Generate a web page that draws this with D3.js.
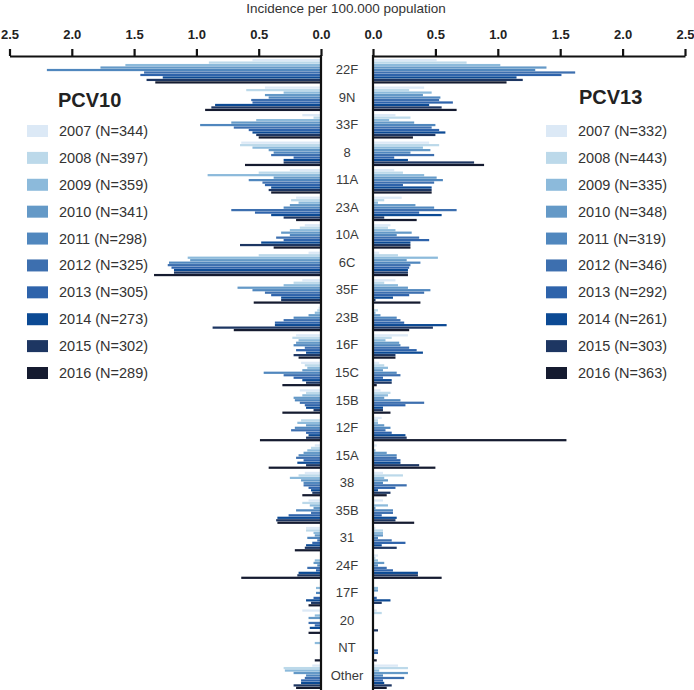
<!DOCTYPE html>
<html><head><meta charset="utf-8">
<script src="https://cdn.jsdelivr.net/npm/d3@7/dist/d3.min.js"></script>
<style>body{margin:0;background:#fff}svg{display:block}</style>
</head><body><svg id="c" width="694" height="690"></svg>
<script>
const categories = ["22F","9N","33F","8","11A","23A","10A","6C","35F","23B","16F","15C","15B","12F","15A","38","35B","31","24F","17F","20","NT","Other"];
const years = [2007,2008,2009,2010,2011,2012,2013,2014,2015,2016];
const nPCV10 = [344,397,359,341,298,325,305,273,302,289];
const nPCV13 = [332,443,335,348,319,346,292,261,303,363];
const yearColors = ["#dce9f6","#bcd9ea","#8cbadb","#6499c7","#5087be","#3d6faf","#2e63ab","#0c4a94","#1d3662","#151b30"];
const tickValues = [0,0.5,1,1.5,2,2.5];

// PCV10 countries: rows = categories, columns = 2007..2016
const pcv10 = [
  [0.55,0.90,1.57,1.77,2.20,1.42,1.45,1.27,1.40,1.33],
  [0.45,0.60,0.30,0.45,0.42,0.56,0.55,0.85,0.88,0.93],
  [0.15,0.06,0.52,0.72,0.97,0.70,0.58,0.55,0.52,0.50],
  [0.64,0.65,0.55,0.42,0.38,0.40,0.22,0.30,0.30,0.61],
  [0.25,0.50,0.91,0.38,0.58,0.47,0.45,0.40,0.42,0.40],
  [0.20,0.24,0.18,0.25,0.30,0.72,0.53,0.40,0.30,0.20],
  [0.13,0.17,0.25,0.32,0.25,0.36,0.30,0.48,0.65,0.38],
  [0.10,0.50,1.07,1.05,1.22,1.23,1.20,1.18,1.18,1.34],
  [0.15,0.22,0.30,0.67,0.55,0.45,0.40,0.32,0.32,0.54],
  [0.02,0.03,0.05,0.10,0.22,0.30,0.37,0.37,0.87,0.70],
  [0.20,0.23,0.18,0.20,0.22,0.13,0.20,0.12,0.22,0.18],
  [0.16,0.13,0.11,0.15,0.46,0.30,0.22,0.15,0.12,0.31],
  [0.17,0.12,0.15,0.22,0.21,0.17,0.13,0.12,0.06,0.31],
  [0.00,0.16,0.19,0.12,0.21,0.24,0.12,0.10,0.12,0.49],
  [0.05,0.08,0.11,0.14,0.18,0.20,0.14,0.19,0.12,0.42],
  [0.13,0.18,0.25,0.16,0.14,0.14,0.10,0.08,0.07,0.15],
  [0.10,0.15,0.09,0.06,0.20,0.08,0.26,0.35,0.36,0.35],
  [0.12,0.12,0.06,0.05,0.11,0.03,0.07,0.12,0.13,0.21],
  [0.00,0.00,0.05,0.06,0.03,0.11,0.04,0.18,0.19,0.64],
  [0.00,0.00,0.04,0.00,0.04,0.00,0.06,0.12,0.08,0.10],
  [0.15,0.00,0.05,0.10,0.00,0.10,0.05,0.09,0.00,0.10],
  [0.00,0.00,0.05,0.00,0.00,0.00,0.00,0.00,0.00,0.05],
  [0.07,0.30,0.29,0.22,0.12,0.13,0.16,0.16,0.22,0.20]
];
// PCV13 countries
const pcv13 = [
  [0.51,0.75,1.02,1.39,1.30,1.62,1.51,1.15,1.20,1.07],
  [0.41,0.29,0.47,0.40,0.54,0.53,0.64,0.45,0.55,0.67],
  [0.18,0.30,0.13,0.33,0.50,0.47,0.53,0.58,0.50,0.32],
  [0.45,0.53,0.40,0.46,0.30,0.49,0.17,0.28,0.81,0.89],
  [0.17,0.24,0.41,0.51,0.56,0.49,0.24,0.47,0.47,0.47],
  [0.23,0.09,0.04,0.34,0.49,0.67,0.37,0.55,0.09,0.35],
  [0.14,0.12,0.18,0.31,0.19,0.37,0.45,0.30,0.30,0.30],
  [0.05,0.20,0.52,0.27,0.38,0.30,0.29,0.28,0.28,0.28],
  [0.18,0.09,0.20,0.28,0.46,0.41,0.29,0.16,0.02,0.38],
  [0.00,0.04,0.02,0.06,0.19,0.22,0.25,0.59,0.48,0.29],
  [0.28,0.15,0.10,0.21,0.22,0.29,0.35,0.40,0.18,0.18],
  [0.05,0.09,0.12,0.08,0.19,0.22,0.08,0.15,0.15,0.03],
  [0.06,0.14,0.12,0.09,0.22,0.41,0.26,0.08,0.08,0.14],
  [0.07,0.04,0.04,0.09,0.14,0.10,0.15,0.26,0.27,1.55],
  [0.03,0.00,0.02,0.11,0.19,0.19,0.22,0.22,0.37,0.50],
  [0.08,0.24,0.09,0.12,0.08,0.27,0.18,0.04,0.14,0.11],
  [0.08,0.01,0.12,0.02,0.16,0.16,0.07,0.19,0.18,0.33],
  [0.02,0.08,0.08,0.08,0.04,0.15,0.26,0.07,0.19,0.00],
  [0.04,0.02,0.04,0.09,0.04,0.11,0.16,0.36,0.36,0.55],
  [0.00,0.00,0.04,0.04,0.00,0.00,0.03,0.14,0.07,0.00],
  [0.03,0.07,0.00,0.00,0.00,0.00,0.00,0.00,0.04,0.00],
  [0.00,0.00,0.00,0.00,0.00,0.04,0.04,0.00,0.00,0.03],
  [0.20,0.28,0.05,0.28,0.08,0.25,0.08,0.09,0.15,0.11]
];

const svg = d3.select("#c");
const FONT = "'Liberation Sans', Arial, sans-serif";

const y = d3.scaleBand().domain(categories).range([57, 690]);
const yi = d3.scaleBand().domain(years).range([2, y.bandwidth() - 1]).paddingInner(0.1);
const color = d3.scaleOrdinal().domain(years).range(yearColors);
const xL = d3.scaleLinear().domain([0, 2.5]).range([321, 9.5]);
const xR = d3.scaleLinear().domain([0, 2.5]).range([373, 685]);

function flat(arr) {
  const out = [];
  categories.forEach((c, i) => years.forEach((yr, j) => out.push({cat: c, year: yr, v: arr[i][j]})));
  return out;
}

// bars
svg.append("g").selectAll("rect").data(flat(pcv10).filter(d => d.v > 0)).join("rect")
  .attr("x", d => xL(d.v)).attr("width", d => xL(0) - xL(d.v))
  .attr("y", d => y(d.cat) + yi(d.year)).attr("height", yi.bandwidth())
  .attr("fill", d => color(d.year));
svg.append("g").selectAll("rect").data(flat(pcv13).filter(d => d.v > 0)).join("rect")
  .attr("x", xR(0)).attr("width", d => xR(d.v) - xR(0))
  .attr("y", d => y(d.cat) + yi(d.year)).attr("height", yi.bandwidth())
  .attr("fill", d => color(d.year));

// axes
function styleAxis(g) {
  g.select(".domain").attr("stroke", "#111").attr("stroke-width", 2.2);
  g.selectAll(".tick line").attr("stroke", "#111").attr("stroke-width", 2.2);
  g.selectAll(".tick text").attr("font-family", FONT).attr("font-size", 13)
    .attr("font-weight", "bold").attr("fill", "#222");
}
svg.append("g").attr("transform", "translate(0,56)")
  .call(d3.axisTop(xL).tickValues(tickValues).tickFormat(d3.format(".1f")).tickSize(7).tickSizeOuter(0).tickPadding(10))
  .call(styleAxis);
svg.append("g").attr("transform", "translate(0,56)")
  .call(d3.axisTop(xR).tickValues(tickValues).tickFormat(d3.format(".1f")).tickSize(7).tickSizeOuter(0).tickPadding(10))
  .call(styleAxis);

// vertical baselines
[xL(0), xR(0)].forEach(xx => svg.append("line")
  .attr("x1", xx).attr("x2", xx).attr("y1", 55).attr("y2", 690)
  .attr("stroke", "#111").attr("stroke-width", 2.2));

// category labels
svg.append("g").selectAll("text").data(categories).join("text")
  .attr("x", 347).attr("y", d => y(d) + y.bandwidth() / 2 - 1)
  .attr("text-anchor", "middle").attr("dominant-baseline", "central")
  .attr("font-family", FONT).attr("font-size", 13).attr("fill", "#3a3a3a")
  .text(d => d);

// title
svg.append("text").attr("x", 346).attr("y", 13).attr("text-anchor", "middle")
  .attr("font-family", FONT).attr("font-size", 13.5).attr("fill", "#333")
  .text("Incidence per 100.000 population");

// legends
function legend(title, ns, x0, titleX, titleY) {
  const g = svg.append("g");
  g.append("text").attr("x", titleX).attr("y", titleY)
    .attr("font-family", FONT).attr("font-size", 20).attr("font-weight", "bold").attr("fill", "#222")
    .text(title);
  const ly = d3.scalePoint().domain(years).range([131, 373]);
  const it = g.selectAll("g.item").data(years).join("g").attr("class", "item")
    .attr("transform", d => `translate(${x0},${ly(d)})`);
  it.append("rect").attr("x", 0).attr("y", -6).attr("width", 21).attr("height", 12)
    .attr("fill", d => color(d));
  it.append("text").attr("x", 32).attr("y", 0).attr("dominant-baseline", "central")
    .attr("font-family", FONT).attr("font-size", 14.5).attr("fill", "#333")
    .text((d, i) => `${d} (N=${ns[i]})`);
}
legend("PCV10", nPCV10, 27, 58, 107);
legend("PCV13", nPCV13, 546, 579, 104);
</script></body></html>
